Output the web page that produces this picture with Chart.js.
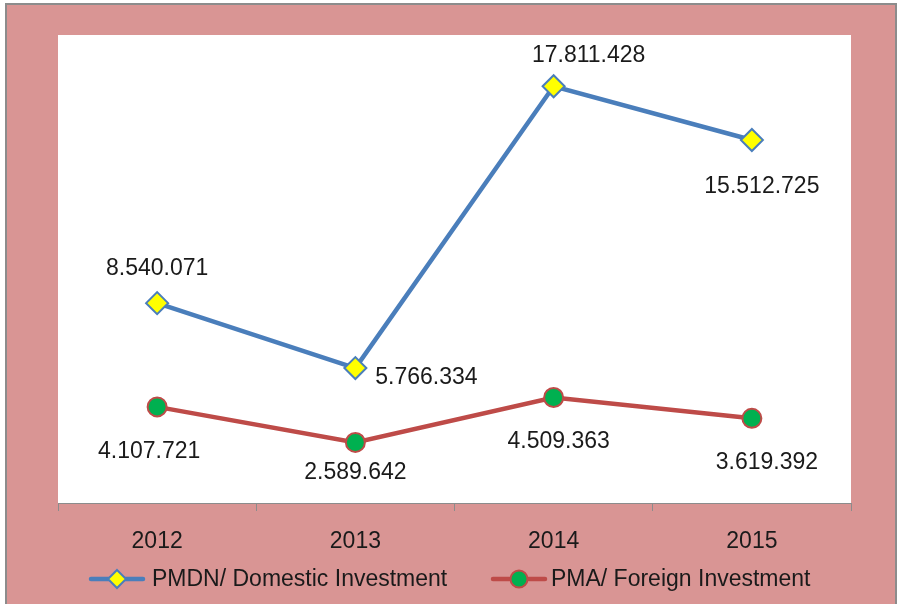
<!DOCTYPE html>
<html>
<head>
<meta charset="utf-8">
<script src="https://cdn.jsdelivr.net/npm/chart.js@4/dist/chart.umd.min.js"></script>
<style>
  html, body { margin: 0; padding: 0; background: #fff; }
  #wrap {
    position: absolute; left: 5px; top: 3px;
    width: 888px; height: 601px;
    border: 2px solid #8c8c8c; border-bottom: none;
    background: #D99594;
  }
  canvas { display: block; }
</style>
</head>
<body>
<div id="wrap"><canvas id="grafik" width="888" height="601"></canvas></div>
<script>
// data
const tahun = ['2012', '2013', '2014', '2015'];
const pmdn = [8540071, 5766334, 17811428, 15512725];
const pma = [4107721, 2589642, 4509363, 3619392];
const namaSeri = ['PMDN/ Domestic Investment', 'PMA/ Foreign Investment'];

// label offsets from each point (px)
const geserPmdn = [[0, -35], [71, 10], [35, -31], [10, 47]];
const geserPma = [[-8, 45], [0, 30], [5, 44], [15, 44]];

function formatAngka(v) {
  return v.toString().replace(/\B(?=(\d{3})+(?!\d))/g, '.');
}

const labelPlugin = {
  id: 'labelAngka',
  afterDatasetsDraw(chart) {
    const ctx = chart.ctx;
    ctx.save();
    ctx.font = '23px "Liberation Sans", Arial, sans-serif';
    ctx.fillStyle = '#1a1a1a';
    ctx.textAlign = 'center';
    ctx.textBaseline = 'middle';
    const geser = [geserPmdn, geserPma];
    chart.data.datasets.forEach((ds, i) => {
      chart.getDatasetMeta(i).data.forEach((pt, j) => {
        ctx.fillText(formatAngka(ds.data[j]), pt.x + geser[i][j][0], pt.y + geser[i][j][1]);
      });
    });
    ctx.restore();
  }
};

const legendPlugin = {
  id: 'legendaBawah',
  afterDraw(chart) {
    const ctx = chart.ctx;
    const y = 574;
    const posisi = [[84, 145], [486, 544]];
    ctx.save();
    ctx.font = '23px "Liberation Sans", Arial, sans-serif';
    ctx.textBaseline = 'middle';
    ctx.textAlign = 'left';
    chart.data.datasets.forEach((ds, i) => {
      const x0 = posisi[i][0];
      ctx.strokeStyle = ds.borderColor;
      ctx.lineWidth = 4.5;
      ctx.lineCap = 'round';
      ctx.beginPath();
      ctx.moveTo(x0, y);
      ctx.lineTo(x0 + 52, y);
      ctx.stroke();
      const cx = x0 + 26;
      ctx.fillStyle = ds.pointBackgroundColor;
      ctx.strokeStyle = ds.pointBorderColor;
      ctx.lineWidth = 2;
      ctx.beginPath();
      if (ds.pointStyle === 'rectRot') {
        const r = 9;
        ctx.moveTo(cx, y - r); ctx.lineTo(cx + r, y); ctx.lineTo(cx, y + r); ctx.lineTo(cx - r, y);
        ctx.closePath();
      } else {
        ctx.arc(cx, y, 8.5, 0, Math.PI * 2);
      }
      ctx.fill();
      ctx.stroke();
      ctx.fillStyle = '#1a1a1a';
      ctx.fillText(ds.label, posisi[i][1], y + 1);
    });
    ctx.restore();
  }
};

const ctx = document.getElementById('grafik');

new Chart(ctx, {
  type: 'line',
  data: {
    labels: tahun,
    datasets: [{
      label: namaSeri[0],
      data: pmdn,
      borderColor: '#4A7EBB',
      borderWidth: 4.5,
      pointStyle: 'rectRot',
      pointRadius: 11,
      pointBackgroundColor: '#FFFF00',
      pointBorderColor: '#4A7EBB',
      pointBorderWidth: 2,
      tension: 0
    }, {
      label: namaSeri[1],
      data: pma,
      borderColor: '#BE4B48',
      borderWidth: 4.5,
      pointStyle: 'circle',
      pointRadius: 9.5,
      pointBackgroundColor: '#00B050',
      pointBorderColor: '#BE4B48',
      pointBorderWidth: 2,
      tension: 0
    }]
  },
  options: {
    responsive: false,
    devicePixelRatio: 1,
    animation: false,
    layout: { padding: { left: 51, right: 44, top: 30, bottom: 43 } },
    plugins: {
      legend: { display: false },
      tooltip: { enabled: false }
    },
    scales: {
      y: { display: false, min: 0, max: 20000000 },
      x: {
        offset: true,
        afterFit(scale) { scale.height = 60; },
        grid: {
          offset: true,
          drawOnChartArea: false,
          tickLength: 8,
          color: '#8c8c8c'
        },
        border: { display: true, color: '#8c8c8c', width: 1 },
        ticks: {
          color: '#1a1a1a',
          padding: 17,
          font: { family: '"Liberation Sans", Arial, sans-serif', size: 23 }
        }
      }
    }
  },
  plugins: [{
    id: 'areaPutih',
    beforeDraw(chart) {
      const a = chart.chartArea;
      chart.ctx.save();
      chart.ctx.fillStyle = '#ffffff';
      chart.ctx.fillRect(a.left, a.top, a.right - a.left, a.bottom - a.top);
      chart.ctx.restore();
    }
  }, labelPlugin, legendPlugin]
});
</script>
</body>
</html>
